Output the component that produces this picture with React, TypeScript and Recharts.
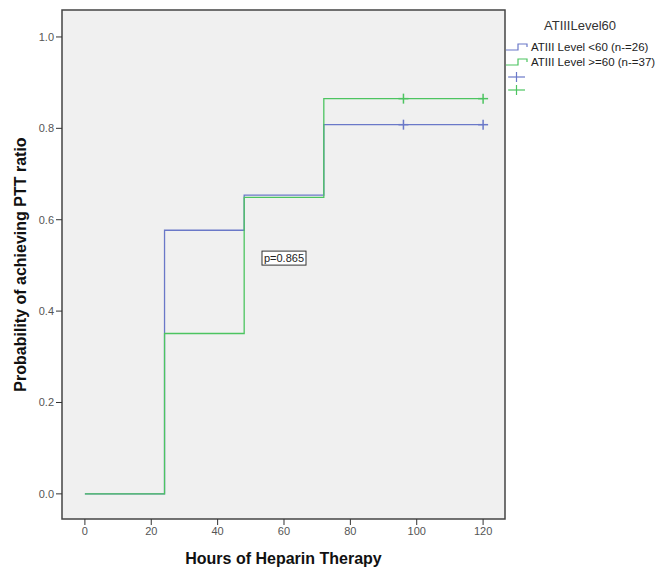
import {
  ComposedChart,
  Line,
  Scatter,
  XAxis,
  YAxis,
  ReferenceArea,
  ReferenceDot,
  Label,
} from 'recharts';

// Kaplan-Meier style cumulative probability per ATIII group
const hours = [0, 24, 48, 72, 120];
const lowProb = [0, 0.577, 0.654, 0.808, 0.808];
const highProb = [0, 0.351, 0.649, 0.865, 0.865];
const censorHours = [96, 120];
const xTicks = [0, 20, 40, 60, 80, 100, 120];
const yTicks = [0, 0.2, 0.4, 0.6, 0.8, 1.0];
const groupNames = ['ATIII Level <60 (n-=26)', 'ATIII Level >=60 (n-=37)'];
const pValue = 'p=0.865';

const BLUE = '#6a78c8';
const GREEN = '#4cc460';
const FONT = '"Liberation Sans", Arial, sans-serif';

const probAt = (probs: number[], t: number) => {
  let p = probs[0];
  hours.forEach((h, i) => {
    if (h <= t) p = probs[i];
  });
  return p;
};

const lowData = hours.map((t, i) => ({ t, p: lowProb[i] }));
const highData = hours.map((t, i) => ({ t, p: highProb[i] }));
const lowCensor = censorHours.map((t) => ({ t, p: probAt(lowProb, t) }));
const highCensor = censorHours.map((t) => ({ t, p: probAt(highProb, t) }));

const Plus = (color: string) => (props: any) => {
  const { cx, cy } = props;
  return (
    <g stroke={color} strokeWidth={1.5}>
      <line x1={cx - 5} x2={cx + 5} y1={cy} y2={cy} />
      <line x1={cx} x2={cx} y1={cy - 5} y2={cy + 5} />
    </g>
  );
};

const PBox = (props: any) => {
  const { cx, cy } = props;
  return (
    <g>
      <rect x={cx - 22} y={cy - 7} width={44} height={14} fill="#fff" stroke="#333" strokeWidth={1} />
      <text x={cx} y={cy + 4} textAnchor="middle" fontSize={11} fontFamily={FONT} fill="#222">
        {pValue}
      </text>
    </g>
  );
};

const StepIcon = ({ color }: { color: string }) => (
  <svg width={26} height={10} style={{ position: 'absolute', left: 0, top: 2 }}>
    <path d="M1,8 H13 V2 H22 V5" fill="none" stroke={color} strokeWidth={1.2} />
  </svg>
);

const PlusIcon = ({ color, top }: { color: string; top: number }) => (
  <svg width={20} height={12} style={{ position: 'absolute', left: 2, top }}>
    <line x1={1} x2={18} y1={6} y2={6} stroke={color} strokeWidth={1.2} />
    <line x1={9.5} x2={9.5} y1={1} y2={11} stroke={color} strokeWidth={1.2} />
  </svg>
);

const LegendItem = ({ color, label, top }: { color: string; label: string; top: number }) => (
  <div style={{ position: 'absolute', left: 0, top, height: 14, whiteSpace: 'nowrap' }}>
    <StepIcon color={color} />
    <span style={{ position: 'absolute', left: 26, top: 0, lineHeight: '14px' }}>{label}</span>
  </div>
);

const LegendBox = () => (
  <div
    style={{
      position: 'absolute',
      left: 505,
      top: 0,
      width: 151,
      height: 100,
      fontFamily: FONT,
      color: '#222',
      fontSize: 11.5,
    }}
  >
    <div
      style={{
        position: 'absolute',
        left: 25,
        width: 100,
        top: 18,
        fontSize: 13,
        lineHeight: '16px',
        color: '#333',
        textAlign: 'center',
      }}
    >
      ATIIILevel60
    </div>
    <LegendItem color={BLUE} label={groupNames[0]} top={40} />
    <LegendItem color={GREEN} label={groupNames[1]} top={55} />
    <PlusIcon color={BLUE} top={71} />
    <PlusIcon color={GREEN} top={84} />
  </div>
);

export default function App() {
  return (
    <div style={{ position: 'absolute', left: 0, top: 0, width: 656, height: 567, background: '#fff' }}>
      <ComposedChart
        width={656}
        height={567}
        margin={{ top: 10, right: 151, left: 0, bottom: 0 }}
      >
        <XAxis
          type="number"
          dataKey="t"
          domain={[-6.9, 126.6]}
          ticks={xTicks}
          allowDataOverflow
          height={48}
          axisLine={false}
          tickLine={{ stroke: '#333' }}
          tickSize={6}
          tick={{ fontSize: 11, fill: '#555', fontFamily: FONT }}
        >
          <Label
            value="Hours of Heparin Therapy"
            position="insideBottom"
            offset={3}
            style={{ fontSize: 16, fontWeight: 'bold', fill: '#111', fontFamily: FONT }}
          />
        </XAxis>
        <YAxis
          type="number"
          dataKey="p"
          domain={[-0.055, 1.059]}
          ticks={yTicks}
          allowDataOverflow
          width={62}
          axisLine={false}
          tickLine={{ stroke: '#333' }}
          tickSize={6}
          tickFormatter={(v: number) => v.toFixed(1)}
          tick={{ fontSize: 11, fill: '#555', fontFamily: FONT }}
        >
          <Label
            value="Probability of achieving PTT ratio"
            angle={-90}
            position="insideLeft"
            offset={20}
            style={{ textAnchor: 'middle', fontSize: 16, fontWeight: 'bold', fill: '#111', fontFamily: FONT }}
          />
        </YAxis>
        <ReferenceArea
          x1={-6.9}
          x2={126.6}
          y1={-0.055}
          y2={1.059}
          fill="#f0f0f0"
          fillOpacity={1}
          stroke="#444"
          strokeWidth={1.5}
        />
        <Line
          data={lowData}
          dataKey="p"
          type="stepAfter"
          stroke={BLUE}
          strokeWidth={1.3}
          dot={false}
          isAnimationActive={false}
        />
        <Line
          data={highData}
          dataKey="p"
          type="stepAfter"
          stroke={GREEN}
          strokeWidth={1.3}
          dot={false}
          isAnimationActive={false}
        />
        <Scatter data={lowCensor} dataKey="p" shape={Plus(BLUE)} isAnimationActive={false} />
        <Scatter data={highCensor} dataKey="p" shape={Plus(GREEN)} isAnimationActive={false} />
        <ReferenceDot x={60} y={0.516} r={0} shape={PBox} />
      </ComposedChart>
      <LegendBox />
    </div>
  );
}
